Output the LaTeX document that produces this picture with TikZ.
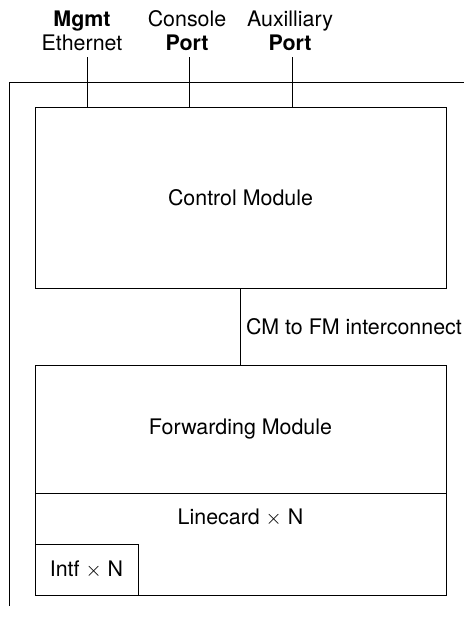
\documentclass[tikz,border=0pt]{standalone}
\usepackage{fontspec}
\setmainfont{TeX Gyre Heros}
\usetikzlibrary{positioning}

\begin{document}
\begin{tikzpicture}[x=1pt,y=-1pt,line width=1pt]
	\tikzstyle{every node}+=[font=\fontsize{21.4}{24}\selectfont]
	\tikzstyle{modbox}=[draw,black,rectangle,minimum width=411pt,inner sep=0pt,outer sep=0pt]
	\tikzstyle{portlabel}=[align=center,inner sep=0pt]
	\useasboundingbox (0,0) rectangle (464,619);
	% chassis edge
	\coordinate (edgeB) at (9,606);
	\coordinate (edgeC) at (9,82);
	\coordinate (edgeR) at (464,82);
	\draw [black] (edgeB) -- (edgeC) -- (edgeR);
	% modules
	\node [modbox,minimum height=181pt] (cm) at (240.5,197.5) {Control Module};
	\node [modbox,minimum height=128pt] (fm) at (240.5,429) {Forwarding Module};
	\node [modbox,minimum height=102pt,below=0pt of fm] (lc) {};
	\node [inner sep=0pt] (lcText) at (240.5,518) {Linecard $\times$ N};
	\node [modbox,minimum width=103pt,minimum height=51pt,anchor=south west] (intf) at (lc.south west) {Intf $\times$ N};
	\draw [black] (cm.south) -- node [right,inner sep=5pt] {CM to FM interconnect} (fm.north);
	% ports
	\node [portlabel] (mgmt) at (82,31) {\textbf{Mgmt}\\Ethernet};
	\node [portlabel] (cons) at (187,31) {Console\\\textbf{Port}};
	\node [portlabel] (aux) at (290,31) {Auxilliary\\\textbf{Port}};
	\coordinate (mgmtP) at (87,57);
	\coordinate (consP) at (189,57);
	\coordinate (auxP) at (292,57);
	\draw [black] (mgmtP) -- (mgmtP |- cm.north);
	\draw [black] (consP) -- (consP |- cm.north);
	\draw [black] (auxP) -- (auxP |- cm.north);
\end{tikzpicture}
\end{document}
